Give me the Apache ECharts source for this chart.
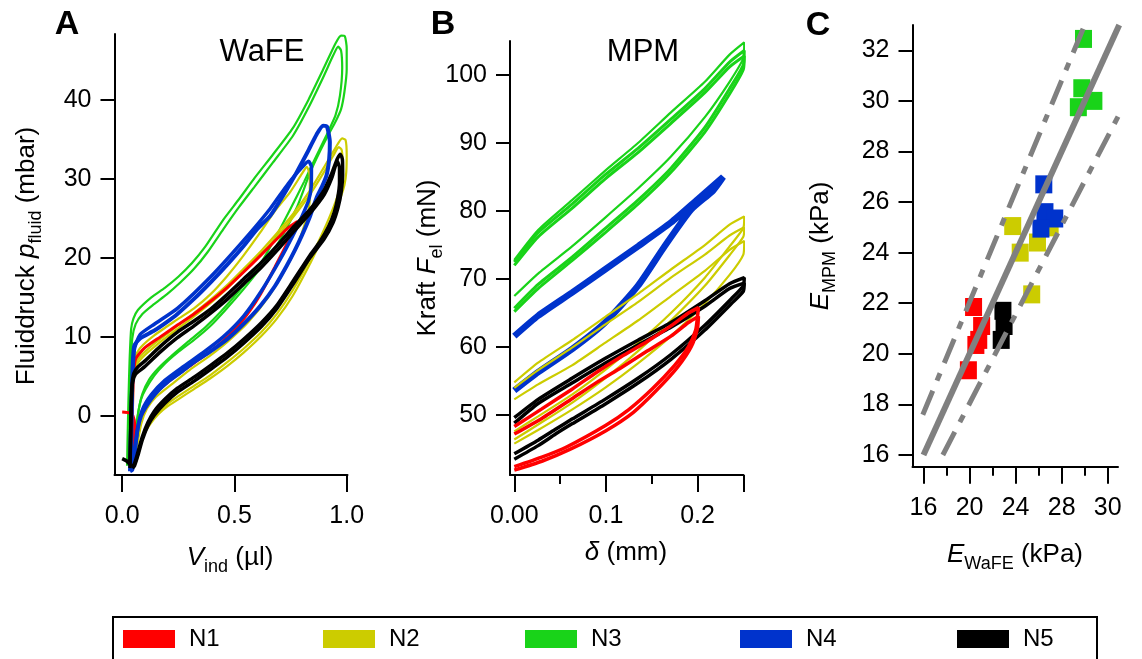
<!DOCTYPE html>
<html><head><meta charset="utf-8">
<script src="https://cdn.jsdelivr.net/npm/echarts@6/dist/echarts.min.js"></script>
<style>html,body{margin:0;padding:0;background:#fff}#c{width:1142px;height:659px}</style>
</head><body><div id="c"></div>
<script>
// ---------------- DATA ----------------
const groupNames = ['N1','N2','N3','N4','N5'];

// Panel A (WaFE): [V_ind (µl), p_fluid (mbar)]
const wafeN1 = [[0.0,0.5],[0.03,0.4],[0.048,0.0],[0.056,-1.2],[0.052,-4.5],[0.046,-6.0],[0.044,-3],[0.046,1],[0.05,5.0],[0.06,7.2],[0.1,8.6],[0.17,10.0],[0.246,11.5],[0.32,12.9],[0.394,14.5],[0.47,16.3],[0.541,18.2],[0.62,20.4],[0.69,22.4],[0.74,23.8],[0.78,24.6],[0.77,23.8],[0.745,22.4],[0.718,20.9],[0.68,18.8],[0.645,16.9],[0.61,15.1],[0.571,13.4],[0.52,11.5],[0.47,10.0],[0.4,8.3],[0.32,6.7],[0.25,5.3],[0.2,4.2],[0.16,3.2],[0.13,2.2],[0.105,1.1],[0.085,0.0]];
const wafeN2a = [[0.04,-6.3],[0.042,-2],[0.045,2],[0.05,5.0],[0.06,6.6],[0.09,7.8],[0.15,9.3],[0.246,11.4],[0.32,13.0],[0.394,14.7],[0.47,16.6],[0.541,18.6],[0.62,20.9],[0.689,23.1],[0.76,25.5],[0.836,28.5],[0.9,31.5],[0.95,33.9],[0.98,35.1],[0.995,34.9],[1.0,33.0],[0.998,30.8],[0.99,29.2],[0.975,27.8],[0.95,26.0],[0.9,23.0],[0.836,19.2],[0.76,15.2],[0.689,12.3],[0.62,10.1],[0.541,8.0],[0.468,6.3],[0.39,4.7],[0.32,3.4],[0.25,2.1],[0.202,1.2],[0.16,0.2],[0.128,-0.9],[0.1,-2.2],[0.08,-4.0],[0.065,-5.6],[0.05,-6.5]];
const wafeN2b = [[0.038,-6],[0.042,0],[0.047,5],[0.055,7.3],[0.08,8.6],[0.143,10.2],[0.246,12.2],[0.32,13.6],[0.394,15.4],[0.468,17.7],[0.541,20.3],[0.615,23.2],[0.68,25.9],[0.748,28.3],[0.80,30.6],[0.822,31.5],[0.835,30.5],[0.836,28.0],[0.83,26.0],[0.81,24.0],[0.78,21.5],[0.72,18.2],[0.65,15.0],[0.56,11.8],[0.47,9.4],[0.39,7.6],[0.3,5.8],[0.22,4.0],[0.15,2.4],[0.11,0.9],[0.085,-1],[0.065,-4],[0.05,-6.2]];
const wafeN2c = [[0.045,-6.0],[0.047,0],[0.05,4.6],[0.06,6.2],[0.09,7.4],[0.15,8.9],[0.246,11.0],[0.32,12.6],[0.394,14.3],[0.47,16.2],[0.541,18.2],[0.62,20.5],[0.689,22.7],[0.76,25.1],[0.836,28.0],[0.9,30.9],[0.94,32.9],[0.965,34.0],[0.978,33.6],[0.982,31.5],[0.975,29.5],[0.96,27.9],[0.94,26.3],[0.9,23.6],[0.836,19.8],[0.76,15.9],[0.689,12.9],[0.62,10.6],[0.541,8.5],[0.468,6.8],[0.39,5.1],[0.32,3.8],[0.25,2.5],[0.2,1.5],[0.16,0.5],[0.128,-0.5],[0.1,-1.8],[0.08,-3.7],[0.065,-5.3],[0.052,-6.2]];
const wafeN3a = [[0.022,-6.3],[0.024,-3],[0.028,2],[0.033,7],[0.040,11.0],[0.05,12.3],[0.07,13.4],[0.13,15.0],[0.19,16.2],[0.25,17.6],[0.31,19.3],[0.37,21.4],[0.45,24.8],[0.52,27.4],[0.59,30.1],[0.67,33.0],[0.76,36.4],[0.83,40.0],[0.895,43.8],[0.95,47.1],[0.975,48.1],[0.992,48.0],[1.0,46.5],[1.0,43.8],[0.99,41.0],[0.975,38.8],[0.95,37.2],[0.925,35.9],[0.88,33.4],[0.836,30.7],[0.78,26.5],[0.71,22.6],[0.645,19.8],[0.54,16.0],[0.46,13.4],[0.394,11.4],[0.32,9.6],[0.246,8.0],[0.19,6.6],[0.143,5.1],[0.105,3.4],[0.084,2.1],[0.07,0.2],[0.062,-1.6],[0.05,-4.2],[0.04,-6.0],[0.03,-6.6]];
const wafeN3b = [[0.03,-6.0],[0.033,0],[0.038,6],[0.045,9.8],[0.06,11.6],[0.09,12.9],[0.14,14.1],[0.2,15.4],[0.26,16.9],[0.32,18.6],[0.38,20.7],[0.45,23.6],[0.52,26.4],[0.59,29.0],[0.67,32.0],[0.76,35.4],[0.83,39.0],[0.895,42.8],[0.94,45.6],[0.962,46.7],[0.975,46.2],[0.98,44.0],[0.97,40.5],[0.95,38.0],[0.91,35.5],[0.86,32.6],[0.81,29.6],[0.748,26.1],[0.68,22.4],[0.61,19.0],[0.52,15.8],[0.44,13.2],[0.37,11.2],[0.29,9.3],[0.22,7.6],[0.16,6.0],[0.12,4.6],[0.09,2.8],[0.072,0.5],[0.06,-2.5],[0.048,-5.5],[0.035,-6.7]];
const wafeN4a = [[0.035,-7.0],[0.038,-3],[0.042,2],[0.047,6.5],[0.054,8.9],[0.08,9.8],[0.143,10.8],[0.2,11.9],[0.246,12.9],[0.32,14.8],[0.394,16.9],[0.47,19.2],[0.541,21.5],[0.6,23.6],[0.659,25.3],[0.72,28.0],[0.777,30.8],[0.83,33.6],[0.866,35.6],[0.895,36.7],[0.912,36.6],[0.925,34.6],[0.922,32.5],[0.91,30.4],[0.89,29.0],[0.866,27.6],[0.836,25.2],[0.8,22.8],[0.77,21.0],[0.733,19.0],[0.68,16.4],[0.615,13.9],[0.54,11.6],[0.468,9.7],[0.39,8.1],[0.32,6.8],[0.26,5.5],[0.202,4.3],[0.16,3.2],[0.128,2.1],[0.1,0.9],[0.084,0.0],[0.069,-1.6],[0.055,-4.5],[0.045,-6.8],[0.035,-7.0]];
const wafeN4b = [[0.04,-6.5],[0.043,0],[0.047,5],[0.055,8.5],[0.08,10.3],[0.143,11.6],[0.246,13.6],[0.394,17.6],[0.541,22.2],[0.659,26.2],[0.74,29.4],[0.8,31.4],[0.83,32.2],[0.843,31.5],[0.842,29.0],[0.83,27.2],[0.8,25.2],[0.76,22.8],[0.7,19.6],[0.62,15.8],[0.54,12.6],[0.45,10.0],[0.36,8.0],[0.27,6.2],[0.19,4.5],[0.13,2.7],[0.09,0.8],[0.07,-1.5],[0.055,-5],[0.045,-6.8]];
const wafeN5a = [[0.0,-5.4],[0.02,-5.7],[0.033,-6.1],[0.037,-3.0],[0.04,1.0],[0.044,4.0],[0.052,5.4],[0.07,6.2],[0.099,6.9],[0.17,8.8],[0.246,10.6],[0.32,12.0],[0.394,13.5],[0.47,15.4],[0.541,17.3],[0.62,19.4],[0.689,21.5],[0.76,23.8],[0.836,26.1],[0.9,28.6],[0.935,30.8],[0.958,32.5],[0.972,33.1],[0.981,32.4],[0.982,30.5],[0.976,28.4],[0.962,26.4],[0.94,24.5],[0.9,22.4],[0.836,20.0],[0.76,16.6],[0.689,13.6],[0.62,11.3],[0.541,9.2],[0.47,7.5],[0.394,5.9],[0.32,4.4],[0.246,3.0],[0.19,1.6],[0.143,0.1],[0.115,-1.2],[0.09,-3.0],[0.07,-5.0],[0.055,-6.3],[0.045,-6.6]];
const wafeN5b = [[0.035,-6.6],[0.038,-2],[0.042,2.5],[0.046,4.2],[0.06,5.3],[0.099,6.2],[0.17,8.1],[0.246,9.9],[0.32,11.4],[0.394,13.0],[0.47,14.8],[0.541,16.7],[0.62,18.8],[0.689,20.9],[0.76,23.2],[0.836,25.6],[0.9,28.0],[0.935,30.2],[0.958,32.2],[0.968,31.4],[0.968,29.5],[0.96,27.6],[0.945,25.8],[0.92,24.0],[0.88,22.0],[0.836,20.3],[0.76,17.0],[0.689,14.0],[0.62,11.8],[0.541,9.7],[0.47,8.0],[0.394,6.4],[0.32,4.9],[0.246,3.5],[0.19,2.1],[0.143,0.6],[0.115,-0.8],[0.09,-2.6],[0.07,-4.6],[0.055,-6.0],[0.045,-6.4]];

// Panel B (MPM): [delta (mm), F_el (mN)]
const mpmN1a = [[0,42.4],[0.03,43.8],[0.057,45.3],[0.1,48.5],[0.125,50.8],[0.151,53.9],[0.175,57.3],[0.19,60.0],[0.198,62.5],[0.2,64.5],[0.201,65.8],[0.19,65.0],[0.171,63.1],[0.145,60.8],[0.117,58.6],[0.09,56.3],[0.063,53.8],[0.03,50.9],[0,48.3]];
const mpmN1b = [[0,41.9],[0.03,43.2],[0.06,44.9],[0.1,47.7],[0.13,50.4],[0.155,53.6],[0.178,57.0],[0.193,60.0],[0.2,62.8],[0.201,64.5],[0.19,63.6],[0.171,61.6],[0.145,59.4],[0.117,57.0],[0.09,54.8],[0.063,52.4],[0.03,49.5],[0,47.2]];
const mpmN2a = [[0,47.6],[0.026,49.8],[0.063,53.0],[0.099,56.6],[0.135,60.6],[0.171,65.0],[0.208,70.2],[0.235,74.8],[0.25,77.5],[0.251,79.2],[0.235,78.0],[0.208,75.0],[0.171,71.4],[0.135,67.8],[0.099,64.4],[0.063,61.0],[0.026,57.7],[0,54.8]];
const mpmN2b = [[0,46.4],[0.026,48.6],[0.063,51.8],[0.099,55.4],[0.135,59.4],[0.171,63.9],[0.208,69.0],[0.235,73.5],[0.25,76.2],[0.251,77.6],[0.235,76.4],[0.208,73.6],[0.171,70.2],[0.135,66.6],[0.099,63.3],[0.063,59.9],[0.026,56.6],[0,54.0]];
const mpmN2c = [[0,45.8],[0.026,47.8],[0.063,50.8],[0.099,54.0],[0.135,57.6],[0.171,61.6],[0.208,66.4],[0.235,70.6],[0.25,73.6],[0.251,75.6],[0.235,74.3],[0.208,71.2],[0.171,67.5],[0.135,63.9],[0.099,60.6],[0.063,57.3],[0.026,54.5],[0,52.3]];
const mpmN3a = [[0,67.5],[0.026,70.8],[0.063,74.8],[0.099,79.0],[0.135,83.3],[0.171,88.0],[0.208,93.8],[0.235,99.0],[0.25,102.5],[0.251,104.8],[0.235,103.0],[0.208,99.0],[0.171,94.5],[0.135,90.0],[0.099,85.9],[0.063,81.6],[0.026,77.2],[0,72.8]];
const mpmN3b = [[0,65.7],[0.026,69.2],[0.063,73.2],[0.099,77.4],[0.135,81.6],[0.171,86.3],[0.208,92.3],[0.235,98.0],[0.25,101.5],[0.251,103.6],[0.235,101.9],[0.208,98.0],[0.171,93.5],[0.135,89.2],[0.099,85.3],[0.063,81.0],[0.026,76.8],[0,72.5]];
const mpmN3c = [[0,65.2],[0.026,68.6],[0.063,72.7],[0.099,76.8],[0.135,81.0],[0.171,85.7],[0.208,91.6],[0.235,97.2],[0.25,100.8],[0.251,102.8],[0.235,101.2],[0.208,97.4],[0.171,92.9],[0.135,88.6],[0.099,84.7],[0.063,80.4],[0.026,76.2],[0,72.0]];
const mpmN4 = [[0,53.6],[0.026,56.3],[0.063,59.7],[0.099,63.6],[0.135,69.0],[0.164,74.8],[0.193,80.2],[0.217,83.0],[0.228,85.0],[0.2,81.7],[0.171,78.3],[0.135,74.8],[0.099,71.4],[0.063,68.0],[0.026,64.6],[0,61.6]];
const mpmN5a = [[0,44.3],[0.026,46.3],[0.045,47.9],[0.063,49.4],[0.099,52.3],[0.135,55.4],[0.171,58.9],[0.208,63.2],[0.237,67.1],[0.25,69.0],[0.251,70.2],[0.235,69.3],[0.208,66.8],[0.171,63.6],[0.135,61.0],[0.099,58.3],[0.063,55.4],[0.026,52.3],[0,49.6]];
const mpmN5b = [[0,43.5],[0.026,45.5],[0.045,47.2],[0.063,48.7],[0.099,51.6],[0.135,54.7],[0.171,58.2],[0.208,62.5],[0.237,66.4],[0.25,68.2],[0.251,69.4],[0.235,68.6],[0.208,66.0],[0.171,62.9],[0.135,60.3],[0.099,57.6],[0.063,54.7],[0.026,51.7],[0,48.8]];

// Panel C: [E_WaFE (kPa), E_MPM (kPa)]
const eN1 = [[20.35,21.85],[21.05,21.1],[20.8,20.55],[20.55,20.35],[19.9,19.35]];
const eN2 = [[23.75,25.05],[24.4,24.0],[25.9,24.4],[25.4,22.35],[27.0,25.0]];
const eN3 = [[29.9,32.45],[29.75,30.5],[29.45,29.75],[30.8,30.0]];
const eN4 = [[26.45,26.7],[26.55,25.6],[27.4,25.35],[26.2,24.95]];
const eN5 = [[22.9,21.7],[23.0,21.1],[22.75,20.55]];
const fitLine = [[16,16],[33,33]];
const bandUpper = [[15.94,17.59],[30.0,33.0]];
const bandLower = [[17.68,16.0],[32.9,29.38]];

// Ticks
const aXTicks = [0,0.5,1.0], aXLabels = ['0.0','0.5','1.0'];
const aYTicks = [0,10,20,30,40];
const bXTicks = [0,0.1,0.2,0.25], bXLabelVals = [0,0.1,0.2], bXLabels = ['0.00','0.1','0.2'];
const bXMinor = [0.05,0.15];
const bYTicks = [50,60,70,80,90,100];
const cXTicks = [16,20,24,28,32], cXLabels = ['16','20','24','28','30'];
const cXMinor = [18,22,26,30];
const cYTicks = [16,18,20,22,24,26,28,30,32];

// ---------------- STYLE ----------------
const FONT = "'Liberation Sans', Arial, Helvetica, sans-serif";
const COL = {N1:'#ff0000', N2:'#cccc00', N3:'#19d319', N4:'#0033cc', N5:'#000000'};
const GRAY = '#808080';

const chart = echarts.init(document.getElementById('c'), null, {renderer:'canvas'});

function mkAxisX(grid, min, max, ticks, labelVals, fmt, showLine) {
  return {type:'value', gridIndex:grid, min, max, position:'bottom', offset:0,
    axisLine:{show:showLine, onZero:false, lineStyle:{color:'#000', width:2}},
    axisTick:{show:true, inside:false, length:showLine?17:9, customValues:ticks, lineStyle:{color:'#000', width:2}},
    axisLabel:{show:!!labelVals, customValues:labelVals||[], margin:29, color:'#000', fontFamily:FONT, fontSize:25, formatter:fmt},
    splitLine:{show:false}};
}
function mkAxisY(grid, min, max, ticks) {
  return {type:'value', gridIndex:grid, min, max, position:'left',
    axisLine:{show:true, onZero:false, lineStyle:{color:'#000', width:2}},
    axisTick:{show:true, length:14, customValues:ticks, lineStyle:{color:'#000', width:2}},
    axisLabel:{customValues:ticks, margin:23, color:'#000', fontFamily:FONT, fontSize:25},
    splitLine:{show:false}};
}
const lookup = (vals, labs) => (v) => { for (let i=0;i<vals.length;i++) if (Math.abs(vals[i]-v)<1e-9) return labs[i]; return ''; };

const axMap = [[0,0],[1,1],[3,2]];
function loop(name, data, g, w, z) {
  return {type:'line', name, data, xAxisIndex:axMap[g][0], yAxisIndex:axMap[g][1],
    showSymbol:false, symbol:'none', smooth:0.2, silent:true, z:z||2,
    lineStyle:{color:COL[name], width:w}, itemStyle:{color:COL[name]}};
}
function pts(name, data) {
  return {type:'scatter', name, data, xAxisIndex:3, yAxisIndex:2, symbol:'rect', symbolSize:[17,18],
    itemStyle:{color:COL[name], opacity:1}, silent:true, z:2};
}
function grayLine(data, w, type) {
  return {type:'line', data, xAxisIndex:3, yAxisIndex:2, showSymbol:false, symbol:'none', silent:true, z:5,
    lineStyle:{color:GRAY, width:w, type:type, cap:'butt'}};
}

const series = [
  loop('N3', wafeN3a, 0, 2.2), loop('N3', wafeN3b, 0, 2.2),
  loop('N2', wafeN2b, 0, 2.2), loop('N2', wafeN2a, 0, 2.2), loop('N2', wafeN2c, 0, 2.2),
  loop('N1', wafeN1, 0, 3),
  loop('N4', wafeN4b, 0, 3.5), loop('N4', wafeN4a, 0, 4),
  loop('N5', wafeN5b, 0, 3.5), loop('N5', wafeN5a, 0, 3.5),

  loop('N3', mpmN3a, 1, 2.2), loop('N3', mpmN3b, 1, 3), loop('N3', mpmN3c, 1, 3),
  loop('N4', mpmN4, 1, 6.5),
  loop('N2', mpmN2a, 1, 2.2), loop('N2', mpmN2b, 1, 2.2), loop('N2', mpmN2c, 1, 2.2),
  loop('N5', mpmN5a, 1, 3.5), loop('N5', mpmN5b, 1, 3.5),
  loop('N1', mpmN1a, 1, 3.5), loop('N1', mpmN1b, 1, 3.5),

  pts('N1', eN1), pts('N2', eN2), pts('N4', eN4), pts('N3', eN3), pts('N5', eN5),
  grayLine(fitLine, 6, 'solid'),
  grayLine(bandUpper, 5, [26,11,8,11]),
  grayLine(bandLower, 5, [26,11,8,11])
];

const legendLeft = [123, 323, 525, 740, 957];
const legends = groupNames.map((n, i) => ({
  left: legendLeft[i], top: 627, padding: 0, orient:'horizontal', selectedMode:false,
  itemWidth: 52, itemHeight: 18, icon:'rect',
  data:[{name:n, icon:'rect', itemStyle:{color:COL[n], borderWidth:0}}],
  textStyle:{fontFamily:FONT, fontSize:24, color:'#000', lineHeight:24, padding:[0,0,0,9]}
}));

function txt(x, y, text, rich, rot, extra) {
  return Object.assign({type:'text', x, y, rotation:rot||0, silent:true,
    style:Object.assign({text, rich, fill:'#000', align:'center', verticalAlign:'middle',
      textAlign:'center', textVerticalAlign:'middle', font:'26px '+FONT}, extra||{})});
}
const R = {
  a:{fontFamily:FONT, fontSize:26, lineHeight:36, verticalAlign:'middle', fill:'#000', color:'#000'},
  i:{fontFamily:FONT, fontSize:26, fontStyle:'italic', lineHeight:36, verticalAlign:'middle', fill:'#000', color:'#000'},
  s:{fontFamily:FONT, fontSize:18, lineHeight:18, verticalAlign:'bottom', fill:'#000', color:'#000'}
};

const option = {
  backgroundColor:'#fff',
  animation:false,
  grid:[
    {left:114.5, top:34, width:233, height:441},
    {left:510, top:41, width:233.5, height:434},
    {left:912.5, top:25, width:205.5, height:441.7}
  ],
  xAxis:[
    mkAxisX(0, -0.0342, 1.0036, aXTicks, aXTicks, lookup(aXTicks, aXLabels), true),
    mkAxisX(1, -0.0047, 0.2502, bXTicks, bXLabelVals, lookup(bXLabelVals, bXLabels), true),
    mkAxisX(1, -0.0047, 0.2502, bXMinor, null, null, false),
    mkAxisX(2, 15.046, 32.894, cXTicks, cXTicks, lookup(cXTicks, cXLabels), true),
    mkAxisX(2, 15.046, 32.894, cXMinor, null, null, false)
  ],
  yAxis:[
    mkAxisY(0, -7.47, 48.3, aYTicks),
    mkAxisY(1, 41.18, 105, bYTicks),
    mkAxisY(2, 15.537, 33.0, cYTicks)
  ],
  legend: legends,
  series,
  graphic:[
    txt(67, 25, 'A', null, 0, {font:'bold 34px '+FONT}),
    txt(443, 25, 'B', null, 0, {font:'bold 34px '+FONT}),
    txt(818, 26, 'C', null, 0, {font:'bold 34px '+FONT}),
    txt(262, 52, 'WaFE', null, 0, {font:'31px '+FONT}),
    txt(643, 52, 'MPM', null, 0, {font:'31px '+FONT}),
    txt(27, 256, '{a|Fluiddruck }{i|p}{s|fluid}{a| (mbar)}', R, Math.PI/2),
    txt(428, 258, '{a|Kraft }{i|F}{s|el}{a| (mN)}', R, Math.PI/2),
    txt(821, 246, '{i|E}{s|MPM}{a| (kPa)}', R, Math.PI/2),
    txt(230, 558, '{i|V}{s|ind}{a| (µl)}', R, 0),
    txt(626, 553, '{i|δ}{a| (mm)}', R, 0),
    txt(1015, 555, '{i|E}{s|WaFE}{a| (kPa)}', R, 0),
    {type:'rect', silent:true, shape:{x:113, y:617, width:984, height:60}, style:{fill:'none', stroke:'#000', lineWidth:2}}
  ]
};
chart.setOption(option);
</script></body></html>
